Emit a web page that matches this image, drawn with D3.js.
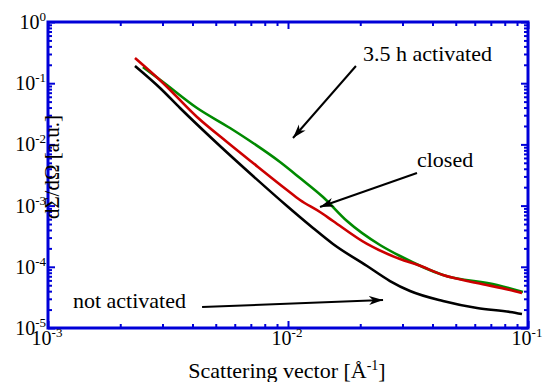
<!DOCTYPE html>
<meta charset="utf-8">
<style>
body { margin: 0; background: #fff; }
svg text { font-family: "Liberation Serif", "DejaVu Serif", serif !important; }
</style>
<svg width="543" height="382"></svg>
<script src="https://d3js.org/d3.v7.min.js"></script>
<script>
// tick labels (exponents of ten)
var xTickExps = [-3, -2, -1]
var yTickExps = [0, -1, -2, -3, -4, -5]

// [q (1/A), intensity (a.u.)]
var notActivatedData = [
  [0.002304, 0.191], [0.002929, 0.0835], [0.003548, 0.03934], [0.005207, 0.00942],
  [0.007149, 0.003046], [0.009904, 0.000985], [0.01271, 0.000431], [0.0154, 0.000236],
  [0.02135, 0.000103], [0.02661, 0.0000586], [0.03224, 0.0000402], [0.04424, 0.0000276],
  [0.06131, 0.0000212], [0.08414, 0.0000183], [0.09441, 0.0000169]
]
var closedData = [
  [0.002304, 0.2581], [0.003014, 0.1008], [0.004177, 0.02803], [0.005569, 0.01094],
  [0.007149, 0.004966], [0.009904, 0.001798], [0.01122, 0.001234], [0.01359, 0.000786],
  [0.0154, 0.00056], [0.02135, 0.000236], [0.02929, 0.000134], [0.03481, 0.000107],
  [0.04424, 0.0000734], [0.06131, 0.0000544], [0.08414, 0.0000418], [0.09441, 0.0000373]
]
var activated35hData = [
  [0.002488, 0.1839], [0.003014, 0.1046], [0.004177, 0.03934], [0.005732, 0.01853],
  [0.007149, 0.01054], [0.009261, 0.005158], [0.01122, 0.002825], [0.01399, 0.001382],
  [0.01761, 0.00056], [0.02417, 0.000227], [0.02929, 0.00015], [0.04424, 0.0000734],
  [0.07428, 0.0000504], [0.09532, 0.0000387]
]

// annotations: label at [q, I], arrow from [q, I] to [q, I]
var notes = [
  { label: "3.5 h activated", at: [0.02054, 0.2306], from: [0.01919, 0.191], to: [0.01049, 0.01273] },
  { label: "closed", at: [0.03447, 0.004275], from: [0.03447, 0.00341], to: [0.01359, 0.000949] },
  { label: "not activated", at: [0.00127, 0.0000212], from: [0.004385, 0.0000220], to: [0.02489, 0.0000287] }
]

var axisBlue = '#0000d8'
var serif = '"Liberation Serif", "DejaVu Serif", serif'
var plotL = 48, plotR = 528, plotT = 22, plotB = 328

var svg = d3.select('svg')

var x = d3.scaleLog().domain([1e-3, 1e-1]).range([plotL, plotR])
var y = d3.scaleLog().domain([1e-5, 1]).range([plotB, plotT])

var xMajor = xTickExps.map(e => Math.pow(10, e))
var yMajor = yTickExps.map(e => Math.pow(10, e))
var isMajor = v => Math.abs(Math.log10(v) - Math.round(Math.log10(v))) < 1e-6
var xMinor = x.ticks().filter(v => !isMajor(v))
var yMinor = y.ticks().filter(v => !isMajor(v))

function styleAxis(g) {
  g.select('.domain').remove()
  g.selectAll('.tick line').attr('stroke', axisBlue).attr('stroke-width', 2)
}

svg.append('g').attr('transform', `translate(0,${plotB})`)
  .call(d3.axisBottom(x).tickValues(xMinor).tickSize(-4).tickFormat('')).call(styleAxis)
svg.append('g').attr('transform', `translate(0,${plotB})`)
  .call(d3.axisBottom(x).tickValues(xMajor).tickSize(-7).tickFormat('')).call(styleAxis)
svg.append('g').attr('transform', `translate(0,${plotT})`)
  .call(d3.axisTop(x).tickValues(xMinor).tickSize(-4).tickFormat('')).call(styleAxis)
svg.append('g').attr('transform', `translate(0,${plotT})`)
  .call(d3.axisTop(x).tickValues(xMajor).tickSize(-7).tickFormat('')).call(styleAxis)
svg.append('g').attr('transform', `translate(${plotL},0)`)
  .call(d3.axisLeft(y).tickValues(yMinor).tickSize(-4).tickFormat('')).call(styleAxis)
svg.append('g').attr('transform', `translate(${plotL},0)`)
  .call(d3.axisLeft(y).tickValues(yMajor).tickSize(-7).tickFormat('')).call(styleAxis)
svg.append('g').attr('transform', `translate(${plotR},0)`)
  .call(d3.axisRight(y).tickValues(yMinor).tickSize(-4).tickFormat('')).call(styleAxis)
svg.append('g').attr('transform', `translate(${plotR},0)`)
  .call(d3.axisRight(y).tickValues(yMajor).tickSize(-7).tickFormat('')).call(styleAxis)

// curves
var line = d3.line().x(d => x(d[0])).y(d => y(d[1])).curve(d3.curveMonotoneX)
var series = [
  { data: activated35hData, color: '#008a00' },
  { data: closedData, color: '#cc0000' },
  { data: notActivatedData, color: '#000000' }
]
svg.append('g').selectAll('path')
  .data(series)
  .enter().append('path')
  .attr('d', s => line(s.data))
  .attr('fill', 'none')
  .attr('stroke', s => s.color)
  .attr('stroke-width', 2.6)
  .attr('stroke-linejoin', 'round')

// frame
svg.append('rect')
  .attr('x', plotL).attr('y', plotT)
  .attr('width', plotR - plotL).attr('height', plotB - plotT)
  .attr('fill', 'none').attr('stroke', axisBlue).attr('stroke-width', 3)

// tick labels
function powerLabel(sel) {
  sel.append('tspan').text('10')
  sel.append('tspan').attr('font-size', 13).attr('dy', -8).text(e => String(e))
}
svg.append('g').selectAll('text')
  .data(yTickExps)
  .enter().append('text')
  .attr('x', plotL - 2)
  .attr('y', e => y(Math.pow(10, e)) + 7)
  .attr('text-anchor', 'end')
  .attr('font-size', 20)
  .style('font-family', serif)
  .call(powerLabel)
svg.append('g').selectAll('text')
  .data(xTickExps)
  .enter().append('text')
  .attr('x', e => x(Math.pow(10, e)) - 1)
  .attr('y', 345)
  .attr('text-anchor', 'middle')
  .attr('font-size', 20)
  .style('font-family', serif)
  .call(powerLabel)

// axis titles
var xt = svg.append('text')
  .attr('x', 287).attr('y', 378)
  .attr('text-anchor', 'middle')
  .attr('font-size', 22)
  .style('font-family', serif)
xt.append('tspan').text('Scattering vector [Å')
xt.append('tspan').attr('font-size', 14).attr('dy', -8).text('-1')
xt.append('tspan').attr('dy', 8).text(']')

svg.append('text')
  .attr('transform', 'translate(59,167) rotate(-90)')
  .attr('text-anchor', 'middle')
  .attr('font-size', 21)
  .style('font-family', serif)
  .text('dΣ/dΩ [a.u.]')

// annotations
svg.append('defs').append('marker')
  .attr('id', 'arrow')
  .attr('viewBox', '0 -5 14 10')
  .attr('refX', 14).attr('refY', 0)
  .attr('markerUnits', 'userSpaceOnUse')
  .attr('markerWidth', 14).attr('markerHeight', 10)
  .attr('orient', 'auto')
  .append('path')
  .attr('d', 'M0,-4.5L14,0L0,4.5L4,0Z')
  .attr('fill', '#000')

var ann = svg.append('g').selectAll('g')
  .data(notes)
  .enter().append('g')
ann.append('line')
  .attr('x1', d => x(d.from[0])).attr('y1', d => y(d.from[1]))
  .attr('x2', d => x(d.to[0])).attr('y2', d => y(d.to[1]))
  .attr('stroke', '#000').attr('stroke-width', 2)
  .attr('marker-end', 'url(#arrow)')
ann.append('text')
  .attr('x', d => x(d.at[0])).attr('y', d => y(d.at[1]))
  .attr('font-size', 22)
  .style('font-family', serif)
  .text(d => d.label)
</script>
